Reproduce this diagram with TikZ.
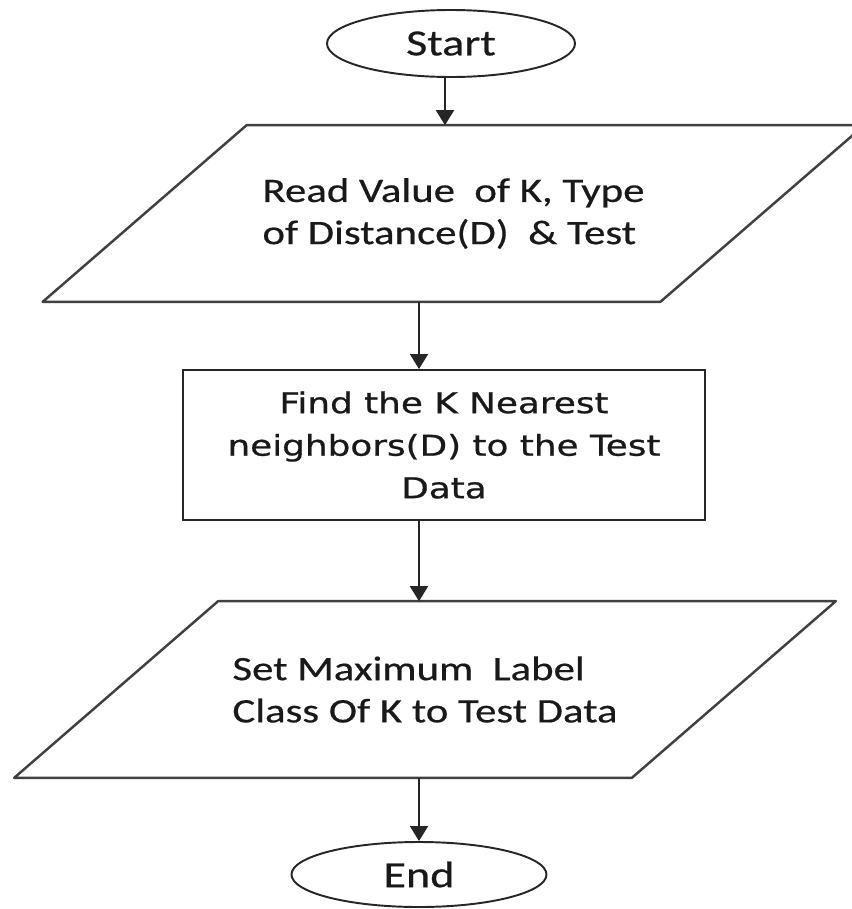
\documentclass[tikz,border=0pt]{standalone}
\usepackage{fontspec}
\usepackage{tikz}
\usetikzlibrary{positioning,arrows.meta,shapes.geometric}
\newfontfamily\flowfont[FakeStretch=1.25,FakeBold=0.5]{Carlito}
\newfontfamily\verdfont[FakeStretch=1.25,FakeBold=0.8]{DejaVu Sans}

\begin{document}
\begin{tikzpicture}[
    flowline/.style={draw=black!85, line width=1.1pt},
    terminal/.style={ellipse, flowline, inner sep=0pt, text=black!90,
        font=\flowfont\fontsize{21}{24}\selectfont},
    io/.style={rectangle, minimum width=12.34cm, minimum height=3.52cm,
        align=left, text=black!90,
        font=\flowfont\fontsize{19.5}{24}\selectfont},
    process/.style={rectangle, flowline, minimum width=10.44cm, minimum height=3cm,
        align=center, text=black!90,
        font=\verdfont\fontsize{16.3}{24.2}\selectfont},
    flowarrow/.style={flowline, -{Triangle[length=0.3cm, width=0.36cm]}}
]
\useasboundingbox (0,0) rectangle (17.02,-18.18);

% Steps
\node[terminal, minimum width=4.96cm, minimum height=1.34cm] (start) at (9.02,-0.87) {Start};
\node[io] (read) at (9.07,-4.27) {Read Value\ \ of K, Type\\of Distance(D)\ \ \& Test};
\node[process] (find) at (8.88,-8.9) {Find the K Nearest\\neighbors(D) to the Test\\Data};
\node[io] (set) at (8.5,-13.79) {Set Maximum\ \ Label\\Class Of K to Test Data};
\node[terminal, minimum width=5.1cm, minimum height=1.3cm] (end) at (8.38,-17.49) {End};

% Slanted outlines of the input/output steps
\foreach \n in {read,set}
    \draw[draw=black!75, line width=1.4pt, line join=round]
        ([xshift=2.04cm]\n.north west) -- ([xshift=2.04cm]\n.north east)
        -- ([xshift=-2.04cm]\n.south east) -- ([xshift=-2.04cm]\n.south west) -- cycle;

% Arrows
\draw[flowarrow] ([xshift=-0.12cm]start.south) -- ([xshift=-0.12cm]start.south |- read.north);
\draw[flowarrow] (end |- read.south) -- (end |- find.north);
\draw[flowarrow] (end |- find.south) -- (end |- set.north);
\draw[flowarrow] (end |- set.south) -- (end.north);
\end{tikzpicture}
\end{document}
